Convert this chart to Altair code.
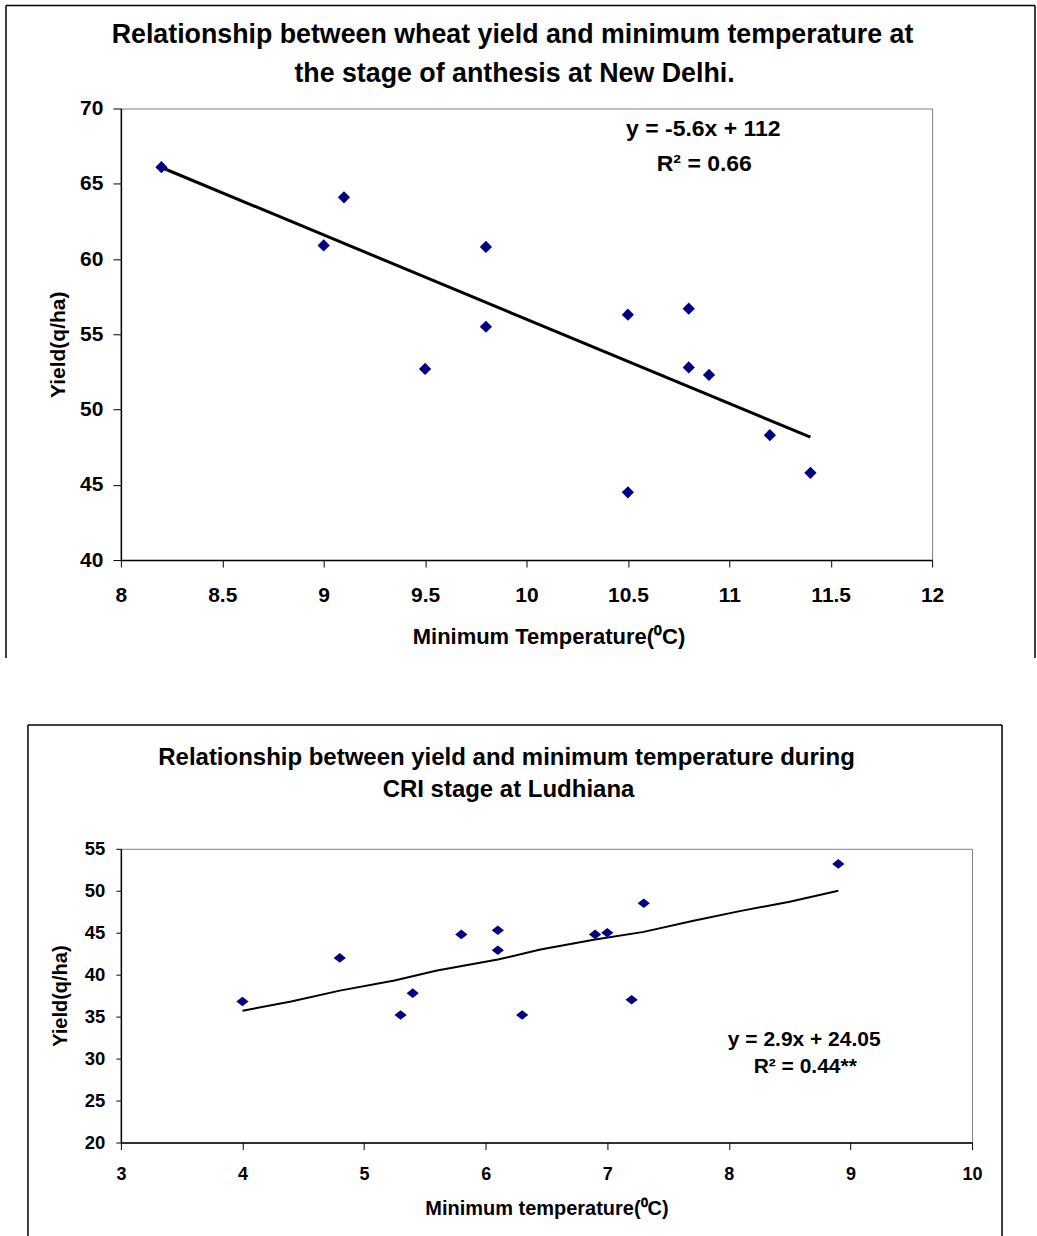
import altair as alt
import pandas as pd

FONT = "Liberation Sans, Arial, Helvetica, sans-serif"
NAVY = "#000080"

# ---- New Delhi: minimum temperature at anthesis vs wheat yield ----
delhi_temp = [8.2, 9.0, 9.1, 9.5, 9.8, 9.8, 10.5, 10.5, 10.8, 10.8, 10.9, 11.2, 11.4]
delhi_yield = [66.1, 60.9, 64.1, 52.7, 60.8, 55.5, 56.3, 44.5, 56.7, 52.8, 52.3, 48.3, 45.8]
delhi_slope = -5.6
delhi_intercept = 112
delhi_fit_temp = [8.2, 11.4]
delhi_x_ticks = [8, 8.5, 9, 9.5, 10, 10.5, 11, 11.5, 12]
delhi_y_ticks = [40, 45, 50, 55, 60, 65, 70]

# ---- Ludhiana: minimum temperature at CRI stage vs yield ----
ludh_temp = [4.0, 4.8, 5.3, 5.4, 5.8, 6.1, 6.1, 6.3, 6.9, 7.0, 7.2, 7.3, 8.9]
ludh_yield = [36.8, 42.0, 35.2, 37.8, 44.8, 45.3, 42.9, 35.2, 44.8, 45.0, 37.0, 48.5, 53.2]
ludh_fit_temp = [4.0, 4.4, 4.8, 5.25, 5.6, 6.1, 6.45, 6.9, 7.3, 7.7, 8.1, 8.5, 8.9]
ludh_fit_yield = [35.7, 36.8, 38.1, 39.3, 40.5, 41.8, 43.0, 44.2, 45.1, 46.4, 47.6, 48.7, 50.0]
ludh_x_ticks = [3, 4, 5, 6, 7, 8, 9, 10]
ludh_y_ticks = [20, 25, 30, 35, 40, 45, 50, 55]

delhi_pts = pd.DataFrame({"temp": delhi_temp, "yield": delhi_yield})
delhi_fit = pd.DataFrame({
    "temp": delhi_fit_temp,
    "yield": [delhi_slope * t + delhi_intercept for t in delhi_fit_temp],
})
ludh_pts = pd.DataFrame({"temp": ludh_temp, "yield": ludh_yield})
ludh_fit = pd.DataFrame({"temp": ludh_fit_temp, "yield": ludh_fit_yield})

one_row = alt.InlineData(values=[{}])


def x_axis(values, lab_size, lab_pad, tick, title, title_size, tx, ty):
    return alt.Axis(
        values=values, format="~r", title=title, grid=False,
        labelFont=FONT, labelFontSize=lab_size, labelFontWeight="bold",
        labelColor="black", labelPadding=lab_pad, labelFlush=False,
        labelOverlap=False, tickSize=tick, tickColor="black", tickWidth=1,
        domainColor="black", domainWidth=1.5,
        titleFont=FONT, titleFontSize=title_size, titleFontWeight="bold",
        titleColor="black", titleX=tx, titleY=ty, titleBaseline="middle",
        titleAlign="center",
    )


def y_axis(values, lab_size, lab_pad, tick, title, title_size, tx, ty):
    return alt.Axis(
        values=values, format="~r", title=title, grid=False,
        labelFont=FONT, labelFontSize=lab_size, labelFontWeight="bold",
        labelColor="black", labelPadding=lab_pad, labelFlush=False,
        labelOverlap=False, tickSize=tick, tickColor="black", tickWidth=1,
        domainColor="black", domainWidth=1.5,
        titleFont=FONT, titleFontSize=title_size, titleFontWeight="bold",
        titleColor="black", titleX=tx, titleY=ty, titleBaseline="middle",
        titleAlign="center", titleAngle=270,
    )


def label(text, x, y, size):
    return alt.Chart(one_row).mark_text(
        font=FONT, fontSize=size, fontWeight="bold", color="black",
        align="center", baseline="middle",
    ).encode(x=alt.value(x), y=alt.value(y), text=alt.value(text))


def frame_lines(left, right, top, bottom):
    style = dict(color="black", strokeWidth=1.5)
    return [
        alt.Chart(one_row).mark_rule(**style).encode(
            x=alt.value(left), x2=alt.value(right), y=alt.value(top)),
        alt.Chart(one_row).mark_rule(**style).encode(
            x=alt.value(left), y=alt.value(top), y2=alt.value(bottom)),
        alt.Chart(one_row).mark_rule(**style).encode(
            x=alt.value(right), y=alt.value(top), y2=alt.value(bottom)),
    ]


# ---------------- New Delhi panel ----------------
dx = alt.X("temp:Q", scale=alt.Scale(domain=[8, 12], nice=False, zero=False),
           axis=x_axis(delhi_x_ticks, 21, 17, 7, "Minimum Temperature(\u2070C)", 22, 428, 77))
dy = alt.Y("yield:Q", scale=alt.Scale(domain=[40, 70], nice=False, zero=False),
           axis=y_axis(delhi_y_ticks, 21, 10, 8, "Yield(q/ha)", 21, -62, 236))

delhi_points = alt.Chart(delhi_pts).mark_point(
    shape="diamond", filled=True, size=150, color=NAVY, opacity=1
).encode(x=dx, y=dy)
delhi_line = alt.Chart(delhi_fit).mark_line(
    color="black", strokeWidth=3
).encode(x=dx, y=dy)

delhi = alt.layer(
    delhi_line, delhi_points,
    label("Relationship between wheat yield and minimum temperature at", 392, -74, 26.8),
    label("the stage of anthesis at New Delhi.", 394, -35, 26.8),
    label("y = -5.6x + 112", 583, 21, 23),
    label("R\u00b2 = 0.66", 584, 56, 23),
    *frame_lines(-115, 915, -103, 550),
).properties(width=812, height=452)

# ---------------- Ludhiana panel ----------------
lx = alt.X("temp:Q", scale=alt.Scale(domain=[3, 10], nice=False, zero=False),
           axis=x_axis(ludh_x_ticks, 18, 16, 7, "Minimum temperature(\u2070C)", 20, 426, 66))
ly = alt.Y("yield:Q", scale=alt.Scale(domain=[20, 55], nice=False, zero=False),
           axis=y_axis(ludh_y_ticks, 18.5, 11, 5, "Yield(q/ha)", 20, -60, 147))

ludh_points = alt.Chart(ludh_pts).mark_point(
    shape="M-1,0L0,-0.78L1,0L0,0.78Z", filled=True, size=150, color=NAVY, opacity=1
).encode(x=lx, y=ly)
ludh_line = alt.Chart(ludh_fit).mark_line(
    color="black", strokeWidth=2
).encode(x=lx, y=ly, order="temp:Q")

ludh = alt.layer(
    ludh_line, ludh_points,
    label("Relationship between yield and minimum temperature during", 386, -91, 24),
    label("CRI stage at Ludhiana", 388, -59, 24),
    label("y = 2.9x + 24.05", 684, 191, 21),
    label("R\u00b2 = 0.44**", 685, 218, 21),
    *frame_lines(-93, 882, -124, 400),
).properties(width=852, height=294)

chart = alt.vconcat(delhi, ludh, spacing=289, bounds="flush").properties(
    autosize=alt.AutoSizeParams(type="pad"),
    padding={"left": 4, "top": 3, "right": 0, "bottom": 0},
    background="white",
).configure_view(stroke="#808080", strokeWidth=1)

chart.save("out.html", embed_options={"renderer": "svg", "actions": False})
